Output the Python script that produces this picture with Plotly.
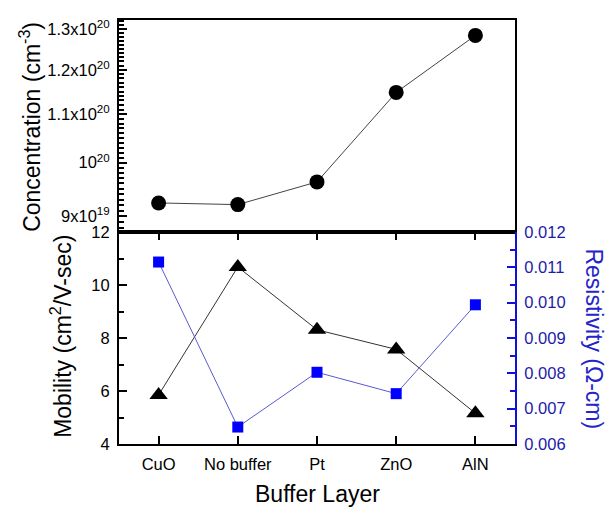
import numpy as np
import plotly.graph_objects as go

# ---------------- data ----------------
buffers = ["CuO", "No buffer", "Pt", "ZnO", "AlN"]
concentration = [9.24e19, 9.21e19, 9.63e19, 1.148e20, 1.284e20]
mobility = [5.85, 10.68, 8.31, 7.57, 5.16]
resistivity = [0.01115, 0.00648, 0.00803, 0.007425, 0.00994]

conc_tickvals = [9e19, 1e20, 1.1e20, 1.2e20, 1.3e20]
conc_ticktext = ["9x10<sup>19</sup>", "10<sup>20</sup>", "1.1x10<sup>20</sup>",
                 "1.2x10<sup>20</sup>", "1.3x10<sup>20</sup>"]
mob_tickvals = [4, 6, 8, 10, 12]
res_tickvals = [0.006, 0.007, 0.008, 0.009, 0.010, 0.011, 0.012]
res_ticktext = ["0.006", "0.007", "0.008", "0.009", "0.010", "0.011", "0.012"]

FONT = "Arial, Liberation Sans, sans-serif"
BLUE_AX = "#1010d8"
BLUE_TXT = "#1c1ca8"

fig = go.Figure()

fig.add_trace(go.Scatter(
    x=buffers, y=concentration, mode="lines+markers",
    line=dict(color="#444444", width=1),
    marker=dict(symbol="circle", size=15, color="black"),
    xaxis="x", yaxis="y", showlegend=False))

fig.add_trace(go.Scatter(
    x=buffers, y=mobility, mode="lines+markers",
    line=dict(color="#333333", width=1),
    marker=dict(symbol="triangle-up", size=16, color="black"),
    xaxis="x2", yaxis="y2", showlegend=False))

fig.add_trace(go.Scatter(
    x=buffers, y=resistivity, mode="lines+markers",
    line=dict(color="#5a5ad0", width=1),
    marker=dict(symbol="square", size=11, color="#0000ff"),
    xaxis="x2", yaxis="y3", showlegend=False))

minor_conc = list(np.arange(8.7e19, 1.33e20, 1e18))

fig.update_layout(
    width=616, height=510,
    margin=dict(l=119, r=101, t=11, b=66),
    paper_bgcolor="white", plot_bgcolor="white",
    font=dict(family=FONT, size=16.5, color="black"),
    xaxis=dict(domain=[0, 1], anchor="y", type="category",
               range=[-0.5, 4.5], showticklabels=False, ticks="",
               showline=True, linecolor="black", linewidth=2, mirror=True,
               showgrid=False, zeroline=False),
    yaxis=dict(domain=[0.5, 1], anchor="x", type="log",
               range=[19.9409, 20.1217],
               tickmode="array", tickvals=conc_tickvals, ticktext=conc_ticktext,
               ticks="inside", ticklen=8, tickwidth=1.5, tickcolor="black",
               minor=dict(tickmode="array", tickvals=minor_conc, ticks="inside",
                          ticklen=5, tickwidth=1.5, tickcolor="black"),
               showline=True, linecolor="black", linewidth=2, mirror=True,
               showgrid=False, zeroline=False, ticklabelstandoff=4),
    xaxis2=dict(domain=[0, 1], anchor="y2", type="category",
                range=[-0.5, 4.5],
                ticks="inside", ticklen=8, tickwidth=1.5, tickcolor="black",
                showline=True, linecolor="black", linewidth=2, mirror="ticks",
                showgrid=False, zeroline=False, ticklabelstandoff=4),
    yaxis2=dict(domain=[0, 0.5], anchor="x2", range=[4, 12],
                tickmode="array", tickvals=mob_tickvals,
                ticks="inside", ticklen=8, tickwidth=1.5, tickcolor="black",
                minor=dict(dtick=1, ticks="inside", ticklen=5, tickwidth=1.5,
                           tickcolor="black"),
                showline=True, linecolor="black", linewidth=2,
                showgrid=False, zeroline=False, ticklabelstandoff=4),
    yaxis3=dict(overlaying="y2", anchor="x2", side="right",
                range=[0.006, 0.012],
                tickmode="array", tickvals=res_tickvals, ticktext=res_ticktext,
                ticks="inside", ticklen=8, tickwidth=1.5, tickcolor=BLUE_AX,
                minor=dict(dtick=0.0005, tick0=0.006, ticks="inside", ticklen=5,
                           tickwidth=1.5, tickcolor=BLUE_AX),
                tickfont=dict(color=BLUE_TXT),
                showline=True, linecolor=BLUE_AX, linewidth=2,
                showgrid=False, zeroline=False, ticklabelstandoff=4),
    annotations=[
        dict(text="Concentration (cm<sup>-3</sup>)", textangle=-90,
             xref="paper", yref="paper", x=-0.2247, y=0.748,
             xanchor="center", yanchor="middle", showarrow=False,
             font=dict(size=23, color="black")),
        dict(text="Mobility (cm<sup>2</sup>/V-sec)", textangle=-90,
             xref="paper", yref="paper", x=-0.1465, y=0.255,
             xanchor="center", yanchor="middle", showarrow=False,
             font=dict(size=23, color="black")),
        dict(text="Resistivity (\u03a9-cm)", textangle=90,
             xref="paper", yref="paper", x=1.1995, y=0.249,
             xanchor="center", yanchor="middle", showarrow=False,
             font=dict(size=23, color="#2424c8")),
        dict(text="Buffer Layer",
             xref="paper", yref="paper", x=0.5, y=-0.1178,
             xanchor="center", yanchor="middle", showarrow=False,
             font=dict(size=23, color="black")),
    ],
)

fig.write_html("out.html")
